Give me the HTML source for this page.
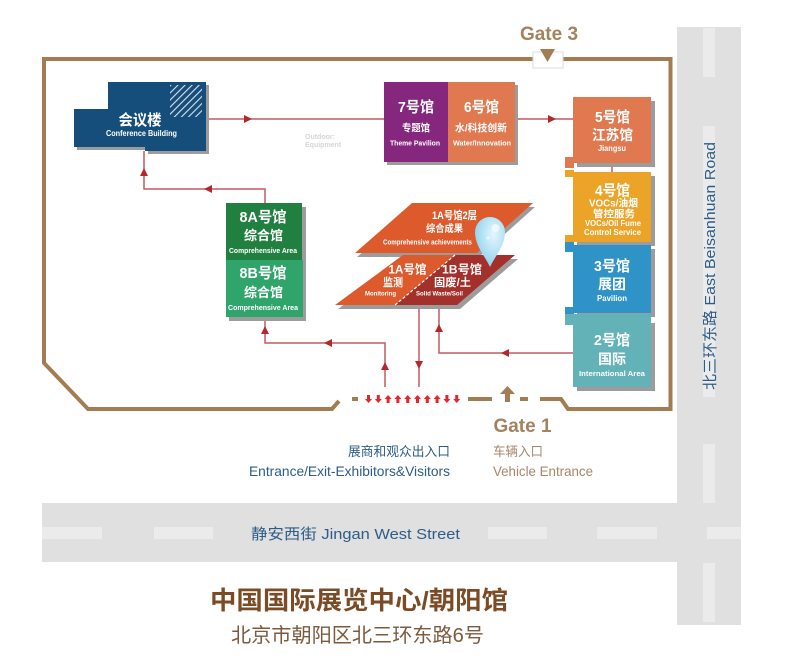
<!DOCTYPE html>
<html><head><meta charset="utf-8">
<style>
html,body{margin:0;padding:0;background:#fff;}
svg{display:block;}
text{font-family:"Liberation Sans","Noto Sans CJK SC",sans-serif;}
.w{fill:#fff;font-weight:bold;text-anchor:middle;}
</style></head><body>
<svg width="787" height="671" viewBox="0 0 787 671" xmlns="http://www.w3.org/2000/svg">
<defs>
<pattern id="hatch" width="5" height="5" patternUnits="userSpaceOnUse" patternTransform="rotate(45)">
<line x1="1" y1="0" x2="1" y2="5" stroke="#fff" stroke-width="1.1" opacity="0.85"/>
</pattern>
<radialGradient id="pin" cx="0.62" cy="0.35" r="0.75">
<stop offset="0" stop-color="#e4f7fd"/><stop offset="1" stop-color="#85cdec"/>
</radialGradient>
</defs>

<!-- roads -->
<rect x="677" y="27" width="64" height="598" fill="#e0e0e0"/>
<rect x="42" y="503" width="699" height="59" fill="#e0e0e0"/>
<g fill="#ebebeb">
<rect x="42" y="527" width="60" height="12"/>
<rect x="154" y="527" width="59" height="12"/>
<rect x="488" y="527" width="59" height="12"/>
<rect x="597" y="527" width="60" height="12"/>
<rect x="707" y="527" width="34" height="12"/>
<rect x="703" y="28" width="12" height="49"/>
<rect x="703" y="126" width="12" height="271"/>
<rect x="703" y="444" width="12" height="59"/>
<rect x="703" y="563" width="12" height="59"/>
</g>
<text x="251" y="539" font-size="15" fill="#2d5c88" textLength="209" lengthAdjust="spacingAndGlyphs">静安西街 Jingan West Street</text>
<text transform="translate(715,266) rotate(-90)" text-anchor="middle" font-size="15" fill="#2d5c88" textLength="248" lengthAdjust="spacingAndGlyphs">北三环东路 East Beisanhuan Road</text>

<!-- boundary -->
<g fill="none" stroke="#a47c51" stroke-width="4" stroke-linejoin="miter">
<path d="M339 401 L332 409 L88 409 L44 363 L44 59 L533 59"/>
<path d="M563 59 L670.5 59 L670.5 409 L568 409 L561 399 L540 399"/>
<path d="M352 399 L358 399 M468 399 L492 399 M520 399 L528 399"/>
</g>
<polygon points="507.5,386 515,394 510,394 510,402 505,402 505,394 500,394" fill="#a47c51"/>
<!-- gate 3 -->
<rect x="533" y="52" width="30" height="16" fill="#fff" stroke="#dcdcdc" stroke-width="1"/>
<polygon points="540,49 555,49 547.5,62" fill="#a47c51"/>
<text x="549" y="40" font-size="19" font-weight="bold" fill="#a3835f" text-anchor="middle">Gate 3</text>

<!-- red gate arrows -->
<g fill="#e3262b">
<polygon points="368.5,403 372,399 370,399 370,395 367,395 367,399 365,399"/>
<polygon points="378.3,403 381.8,399 379.8,399 379.8,395 376.8,395 376.8,399 374.8,399"/>
<polygon points="388.1,395 391.6,399 389.6,399 389.6,403 386.6,403 386.6,399 384.6,399"/>
<polygon points="397.9,395 401.4,399 399.4,399 399.4,403 396.4,403 396.4,399 394.4,399"/>
<polygon points="407.7,395 411.2,399 409.2,399 409.2,403 406.2,403 406.2,399 404.2,399"/>
<polygon points="417.5,395 421,399 419,399 419,403 416,403 416,399 414,399"/>
<polygon points="427.3,395 430.8,399 428.8,399 428.8,403 425.8,403 425.8,399 423.8,399"/>
<polygon points="437.1,395 440.6,399 438.6,399 438.6,403 435.6,403 435.6,399 433.6,399"/>
<polygon points="446.9,403 450.4,399 448.4,399 448.4,395 445.4,395 445.4,399 443.4,399"/>
<polygon points="456.7,403 460.2,399 458.2,399 458.2,395 455.2,395 455.2,399 453.2,399"/>
</g>

<!-- connectors -->
<g fill="none" stroke="#c45a60" stroke-width="1.5">
<path d="M206 119 L384 119"/>
<path d="M515 119 L573 119"/>
<path d="M144 151 L144 189 L265 189 L265 203"/>
<path d="M265 317 L265 343 L385 343 L385 387"/>
<path d="M419 305 L419 387"/>
<path d="M439 305 L439 353 L573 353"/>
<path d="M612 163 L612 320"/>
</g>
<g fill="#b3272d">
<polygon points="244,115 252,119 244,123"/>
<polygon points="548,115 556,119 548,123"/>
<polygon points="140,176 144,168 148,176"/>
<polygon points="212,185 204,189 212,193"/>
<polygon points="261,334 265,326 269,334"/>
<polygon points="332,339 324,343 332,347"/>
<polygon points="381,370 385,362 389,370"/>
<polygon points="415,361 419,369 423,361"/>
<polygon points="435,332 439,324 443,332"/>
<polygon points="509,349 501,353 509,357"/>
</g>

<text x="305" y="139" font-size="7" font-weight="bold" fill="#d6d6d6">Outdoor:</text>
<text x="305" y="147" font-size="7" font-weight="bold" fill="#d6d6d6">Equipment</text>

<!-- conference building -->
<polygon points="77,112 111,112 111,85 209,85 209,154 148,154 148,150 77,150" fill="#9c9c9c"/>
<polygon points="74,109 108,109 108,82 206,82 206,151 145,151 145,147 74,147" fill="#154d7b"/>
<rect x="170" y="85" width="32" height="32" fill="url(#hatch)"/>
<text class="w" x="140" y="125" font-size="15" textLength="43" lengthAdjust="spacingAndGlyphs">会议楼</text>
<text class="w" x="141.5" y="136" font-size="8" textLength="71" lengthAdjust="spacingAndGlyphs">Conference Building</text>

<!-- 7 / 6 -->
<rect x="387" y="85" width="131" height="80" fill="#9c9c9c"/>
<rect x="384" y="82" width="64" height="80" fill="#85277d"/>
<rect x="448" y="82" width="67" height="80" fill="#e07850"/>
<text class="w" x="416" y="112" font-size="15" textLength="36" lengthAdjust="spacingAndGlyphs">7号馆</text>
<text class="w" x="416" y="131.5" font-size="10" textLength="28" lengthAdjust="spacingAndGlyphs">专题馆</text>
<text class="w" x="415" y="145.5" font-size="7" textLength="50" lengthAdjust="spacingAndGlyphs">Theme Pavilion</text>
<text class="w" x="481.5" y="112" font-size="15" textLength="35" lengthAdjust="spacingAndGlyphs">6号馆</text>
<text class="w" x="481" y="131.5" font-size="10" textLength="52" lengthAdjust="spacingAndGlyphs">水/科技创新</text>
<text class="w" x="482" y="145.5" font-size="7" textLength="58" lengthAdjust="spacingAndGlyphs">Water/Innovation</text>

<!-- right column shadows -->
<g fill="#9c9c9c">
<rect x="577" y="101" width="78" height="66"/>
<rect x="577" y="176" width="78" height="70"/>
<rect x="577" y="249" width="78" height="68"/>
<rect x="577" y="323" width="78" height="68"/>
</g>
<!-- 5 -->
<rect x="573" y="97" width="78" height="66" fill="#e07850"/>
<rect x="565" y="157" width="9" height="11" fill="#e07850"/>
<!-- 4 -->
<rect x="573" y="172" width="78" height="70" fill="#eba428"/>
<rect x="565" y="170" width="9" height="7" fill="#eba428"/>
<rect x="565" y="235" width="9" height="7" fill="#eba428"/>
<!-- 3 -->
<rect x="573" y="245" width="78" height="68" fill="#2f93c7"/>
<rect x="565" y="242" width="9" height="10" fill="#2f93c7"/>
<rect x="565" y="307" width="9" height="7" fill="#2f93c7"/>
<!-- 2 -->
<rect x="573" y="319" width="78" height="68" fill="#62b2b8"/>
<rect x="565" y="314" width="86" height="6" fill="#62b2b8"/>
<rect x="565" y="314" width="9" height="11" fill="#62b2b8"/>

<text class="w" x="612.5" y="122" font-size="15" textLength="35" lengthAdjust="spacingAndGlyphs">5号馆</text>
<text class="w" x="612.5" y="140" font-size="14" textLength="41" lengthAdjust="spacingAndGlyphs">江苏馆</text>
<text class="w" x="612" y="151" font-size="8" textLength="28" lengthAdjust="spacingAndGlyphs">Jiangsu</text>

<text class="w" x="612.5" y="195.5" font-size="15" textLength="35" lengthAdjust="spacingAndGlyphs">4号馆</text>
<text class="w" x="613.5" y="206.5" font-size="10" textLength="49" lengthAdjust="spacingAndGlyphs">VOCs/油烟</text>
<text class="w" x="614" y="217.5" font-size="10" textLength="42" lengthAdjust="spacingAndGlyphs">管控服务</text>
<text class="w" x="613" y="226" font-size="8" textLength="56" lengthAdjust="spacingAndGlyphs">VOCs/Oil Fume</text>
<text class="w" x="612.5" y="235" font-size="8" textLength="57" lengthAdjust="spacingAndGlyphs">Control Service</text>

<text class="w" x="612" y="271" font-size="15" textLength="36" lengthAdjust="spacingAndGlyphs">3号馆</text>
<text class="w" x="612" y="289" font-size="14" textLength="28" lengthAdjust="spacingAndGlyphs">展团</text>
<text class="w" x="612" y="301" font-size="8" textLength="30" lengthAdjust="spacingAndGlyphs">Pavilion</text>

<text class="w" x="612" y="345" font-size="15" textLength="36" lengthAdjust="spacingAndGlyphs">2号馆</text>
<text class="w" x="612" y="364" font-size="14" textLength="28" lengthAdjust="spacingAndGlyphs">国际</text>
<text class="w" x="612" y="376" font-size="7.5" textLength="66" lengthAdjust="spacingAndGlyphs">International Area</text>

<!-- 8A / 8B -->
<rect x="229" y="207" width="77" height="114" fill="#9c9c9c"/>
<rect x="226" y="203" width="76" height="57" fill="#21803f"/>
<rect x="226" y="260" width="77" height="57" fill="#30a56b"/>
<text class="w" x="263" y="222" font-size="15" textLength="47" lengthAdjust="spacingAndGlyphs">8A号馆</text>
<text class="w" x="263.5" y="240" font-size="13" textLength="39" lengthAdjust="spacingAndGlyphs">综合馆</text>
<text class="w" x="263" y="253" font-size="7.5" textLength="68" lengthAdjust="spacingAndGlyphs">Comprehensive Area</text>
<text class="w" x="263" y="278" font-size="15" textLength="47" lengthAdjust="spacingAndGlyphs">8B号馆</text>
<text class="w" x="263.5" y="297" font-size="13" textLength="39" lengthAdjust="spacingAndGlyphs">综合馆</text>
<text class="w" x="263" y="310" font-size="7.5" textLength="70" lengthAdjust="spacingAndGlyphs">Comprehensive Area</text>

<!-- 1A / 1B -->
<polygon points="414,207 535,207 479,257 357,257" fill="#9c9c9c"/>
<polygon points="412,203 533,203 477,253 355,253" fill="#dd5a2d"/>
<polygon points="406,259 518,259 460,309 338,309" fill="#9c9c9c"/>
<polygon points="403,255 455,255 395,305 335,305" fill="#dd5a2d"/>
<polygon points="455,255 515,255 457,305 395,305" fill="#a3302a"/>
<line x1="455" y1="255" x2="395" y2="305" stroke="#fff" stroke-width="1.2" stroke-dasharray="3,2"/>
<text class="w" x="454.5" y="219" font-size="11" textLength="45" lengthAdjust="spacingAndGlyphs">1A号馆2层</text>
<text class="w" x="444.5" y="232" font-size="10" textLength="37" lengthAdjust="spacingAndGlyphs">综合成果</text>
<text class="w" x="427.5" y="244.5" font-size="7" textLength="89" lengthAdjust="spacingAndGlyphs">Comprehensive achievements</text>
<text class="w" x="407.5" y="273.5" font-size="12" textLength="38" lengthAdjust="spacingAndGlyphs">1A号馆</text>
<text class="w" x="393" y="286" font-size="11" textLength="20" lengthAdjust="spacingAndGlyphs">监测</text>
<text class="w" x="380.5" y="295.5" font-size="6.5" textLength="31" lengthAdjust="spacingAndGlyphs">Monitoring</text>
<text class="w" x="462" y="273.5" font-size="12" textLength="40" lengthAdjust="spacingAndGlyphs">1B号馆</text>
<text class="w" x="452.5" y="286" font-size="11" textLength="37" lengthAdjust="spacingAndGlyphs">固废/土</text>
<text class="w" x="439.5" y="295.5" font-size="6.5" textLength="47" lengthAdjust="spacingAndGlyphs">Solid Waste/Soil</text>

<!-- pin -->
<path d="M490 267 C485 256 475 246 475 232 A15 15 0 1 1 505 232 C505 246 495 256 490 267 Z" fill="url(#pin)"/>
<circle cx="495.5" cy="228" r="4" fill="#fff" opacity="0.6"/>
<circle cx="488" cy="238" r="1.5" fill="#fff" opacity="0.6"/>

<!-- gate labels -->
<text x="522.5" y="432" font-size="19" font-weight="bold" fill="#a3835f" text-anchor="middle">Gate 1</text>
<text x="450" y="456" font-size="13" fill="#2d5c88" text-anchor="end" textLength="102" lengthAdjust="spacingAndGlyphs">展商和观众出入口</text>
<text x="450" y="476" font-size="14" fill="#2d5c88" text-anchor="end" textLength="201" lengthAdjust="spacingAndGlyphs">Entrance/Exit-Exhibitors&amp;Visitors</text>
<text x="493" y="456" font-size="13" fill="#a6876a" textLength="50" lengthAdjust="spacingAndGlyphs">车辆入口</text>
<text x="493" y="476" font-size="14" fill="#a6876a" textLength="100" lengthAdjust="spacingAndGlyphs">Vehicle Entrance</text>

<!-- titles -->
<text x="359" y="609" font-size="25" font-weight="bold" fill="#7a4b24" text-anchor="middle" textLength="298" lengthAdjust="spacingAndGlyphs">中国国际展览中心/朝阳馆</text>
<text x="357.5" y="642" font-size="20" fill="#7c5a3d" text-anchor="middle" textLength="253" lengthAdjust="spacingAndGlyphs">北京市朝阳区北三环东路6号</text>
</svg>
</body></html>
